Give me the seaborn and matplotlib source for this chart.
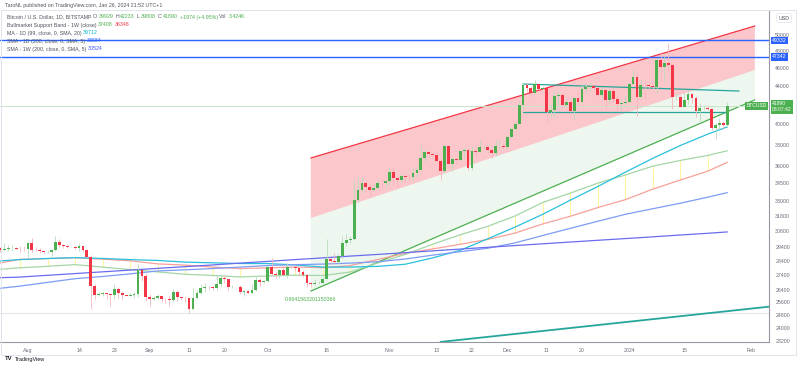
import numpy as np
import pandas as pd
import matplotlib
matplotlib.use("Agg")
import matplotlib.pyplot as plt
import matplotlib.dates as mdates
from matplotlib.patches import Polygon, Rectangle
from matplotlib.ticker import FixedLocator, NullLocator, FixedFormatter
import seaborn as sns

# ---- daily BTCUSD candles, 2023-07-25 .. 2024-01-26 ----
days = pd.date_range("2023-07-25", "2024-01-26", freq="D")
first_open = 29350
close = [
    29180, 29230, 29320, 29350, 29280, 29230, 29220,
    29700, 29180, 29170, 29070, 29050, 29060, 29180, 29770, 29560, 29430, 29400, 29420, 29300, 29430, 29170, 28700,
    26630, 26050, 26100, 26190, 26120, 26040, 26430, 26160, 26050, 26010, 26090, 26100, 27730, 27300, 25930,
    25800, 25870, 25970, 25820, 25790, 25750, 26240, 25900, 25890, 25840, 25160, 25840, 26220, 26530, 26600,
    26570, 26530, 26760, 27210, 27130, 26570, 26580, 26575, 26250, 26300, 26220, 26370, 27030, 26910, 26970,
    27990, 27500, 27430, 27780, 27410, 27930, 27950, 27920, 27590, 27390, 26870, 26760, 26860, 26870, 27160,
    28520, 28410, 28330, 28720, 29680, 29920, 30000, 33080, 33900, 34500, 34160, 33910, 34090, 34540, 34490, 34650,
    35440, 34940, 34730, 35080, 35050, 35040, 35420, 35640, 36700, 37310, 37130, 37060, 36500, 35540, 37880,
    36160, 36600, 36580, 37370, 37460, 35800, 37430, 37280, 37720, 37800, 37450, 37240, 37830, 37850, 37720,
    38690, 39460, 39970, 41980, 44080, 43770, 43290, 44170, 43720, 43790, 41240, 41450, 42890, 43020, 41940,
    42260, 41360, 42660, 42270, 43660, 43860, 43990, 43740, 43010, 43590, 42510, 43440, 42580, 42070, 42140, 42280,
    44180, 44950, 42830, 44160, 44150, 43960, 43930, 46970, 46120, 46660, 46340, 42780, 42850, 41730, 42510,
    43150, 42740, 41280, 41620, 41660, 41580, 39560, 39900, 40080, 39929, 41890,
]
high = [
    29380, 29690, 29570, 29530, 29400, 29440, 29500,
    29740, 30050, 29400, 29310, 29110, 29160, 29250, 30180, 30000, 29650, 29520, 29470, 29450, 29680, 29480, 29220,
    28780, 26800, 26260, 26290, 26260, 26130, 26800, 26560, 26290, 26080, 26170, 26240, 28140, 27750, 27480,
    26140, 25980, 26110, 26090, 25880, 26010, 26440, 26400, 25930, 26000, 25860, 26540, 26380, 26820, 26880,
    26660, 26630, 27420, 27470, 27390, 27150, 26720, 26620, 26720, 26420, 26380, 26800, 27300, 27220, 27070,
    28050, 28580, 27660, 27830, 28120, 28270, 28020, 28090, 27990, 27730, 27480, 26940, 27100, 26980, 27280,
    30000, 28610, 28960, 28890, 30210, 30330, 30200, 34740, 35150, 35000, 34800, 34400, 34470, 34800, 34870, 34700,
    35900, 35950, 34950, 35260, 35380, 35270, 35880, 35980, 37970, 37500, 37420, 37220, 37420, 36750, 37960,
    37980, 36850, 36830, 37500, 37720, 37650, 37850, 37620, 38400, 37900, 37830, 37590, 38390, 38420, 38160,
    38960, 39680, 40200, 42420, 44400, 44290, 44020, 44700, 44360, 44040, 43800, 42100, 43420, 43400, 43090,
    42710, 42420, 42740, 43450, 44280, 44230, 44400, 44000, 43940, 43930, 43600, 43700, 43780, 43120, 42600, 42860,
    44190, 45900, 45500, 44770, 44480, 44200, 44450, 47200, 47900, 47650, 48970, 46500, 43250, 43050, 43380,
    43580, 43200, 42920, 42200, 41880, 41870, 41670, 40130, 40500, 40270, 42233,
]
low = [
    29050, 29100, 29120, 29120, 29260, 29050, 29120,
    28600, 28950, 29100, 28970, 28980, 28960, 28720, 29130, 29370, 29350, 29300, 29360, 29260, 29100, 29050, 28690,
    25170, 25800, 25990, 26020, 25800, 25360, 25800, 25860, 25780, 25980, 25970, 25880, 25920, 27000, 25660,
    25350, 25720, 25820, 25600, 25570, 25380, 25620, 25700, 25820, 25580, 24900, 25130, 25770, 26130, 26250,
    26470, 26400, 26380, 26680, 26850, 26370, 26490, 26520, 26130, 25990, 26100, 26110, 26340, 26680, 26890,
    26950, 27300, 27200, 27230, 27350, 27180, 27870, 27700, 27300, 27290, 26560, 26560, 26690, 26810, 26830,
    27120, 28100, 28150, 28200, 28610, 29470, 29680, 29890, 32880, 33700, 33770, 33420, 33880, 34050, 34100, 34080,
    34360, 34360, 34130, 34580, 34550, 34780, 34560, 35120, 35550, 36350, 36780, 36760, 36360, 34800, 35370,
    35850, 35520, 36200, 36420, 36700, 35630, 35680, 36900, 37260, 37600, 37160, 36700, 36880, 37620, 37530,
    37630, 38650, 39280, 39960, 41420, 43350, 42850, 43080, 43600, 43590, 40250, 40670, 40600, 41850, 41680,
    41700, 41250, 40530, 41800, 42200, 43340, 43420, 43580, 42840, 42750, 41560, 42150, 42320, 41320, 41550, 41980,
    42200, 44170, 40800, 42640, 42480, 43480, 43650, 43200, 44600, 44500, 45620, 41500, 42440, 41700, 41720,
    42050, 42200, 40680, 40280, 41500, 41450, 39450, 38560, 39480, 39540, 39808,
]

# ---- indicators, sampled at weekly closes (Sundays) + last bar ----
ind_dates = pd.to_datetime([
    "2023-07-23", "2023-07-30", "2023-08-06", "2023-08-13", "2023-08-20", "2023-08-27",
    "2023-09-03", "2023-09-10", "2023-09-17", "2023-09-24", "2023-10-01", "2023-10-08",
    "2023-10-15", "2023-10-22", "2023-10-29", "2023-11-05", "2023-11-12", "2023-11-19",
    "2023-11-26", "2023-12-03", "2023-12-10", "2023-12-17", "2023-12-24", "2023-12-31",
    "2024-01-07", "2024-01-14", "2024-01-21", "2024-01-26",
])
band_sma20w = [28144, 28500, 28553, 28619, 28505, 28393, 28176, 28089, 27953, 27844, 27897, 27955,
               27910, 28054, 28489, 28924, 29253, 29592, 29956, 30440, 31140, 31744, 32442, 33091,
               33978, 34760, 35541, 36348]
band_ema21w = [27762, 27900, 28005, 28123, 27947, 27778, 27614, 27453, 27369, 27267, 27333, 27386,
               27365, 27605, 28235, 28854, 29600, 30306, 30955, 31774, 32866, 33638, 34490, 35198,
               35992, 36514, 36975, 37408]
ma99 = [28350, 28480, 28560, 28620, 28560, 28480, 28420, 28300, 28250, 28200, 28200, 28100,
        27950, 27950, 28000, 28150, 28600, 29150, 30000, 30900, 31900, 33050, 34200, 35450,
        36700, 37900, 39000, 39712]
sma200d = [26450, 26650, 26900, 27150, 27300, 27480, 27680, 27760, 27850, 27950, 28060, 28120,
           28160, 28230, 28330, 28520, 28800, 29050, 29300, 29700, 30250, 30800, 31350, 31900,
           32350, 32800, 33300, 33684]
sma200w = [27200, 27260, 27380, 27500, 27620, 27740, 27860, 27980, 28100, 28230, 28350, 28480,
           28600, 28730, 28850, 28980, 29110, 29240, 29370, 29500, 29630, 29760, 29890, 30020,
           30150, 30290, 30420, 30524]

# ---- drawings ----
chan_dates = pd.to_datetime(["2023-10-12", "2024-02-02"])
chan_top = [36740, 51140]
chan_mid = [31600, 45800]
chan_low = [26320, 42500]
fib_label = "0.8641563201150366"
box_dates = pd.to_datetime(["2023-12-05", "2024-01-29"])
box_top = [44220, 43450]
box_bottom = [41230, 41230]
support_dates = pd.to_datetime(["2023-11-14", "2024-02-06"])
support_vals = [23170, 25320]
hlines_blue = [49332, 47342]
hline_gray = 24900
last_price = 41890

yticks = [50000, 48000, 46000, 44000, 40000, 38000, 36000, 34500, 33000, 31800, 30600,
          29400, 28400, 27400, 26400, 25600, 24800, 24000, 23200]
xtick_dates = pd.to_datetime([
    "2023-08-01", "2023-08-14", "2023-08-23", "2023-09-01", "2023-09-11", "2023-09-20",
    "2023-10-01", "2023-10-16", "2023-11-01", "2023-11-13", "2023-11-22", "2023-12-01",
    "2023-12-11", "2023-12-20", "2024-01-01", "2024-01-15", "2024-02-01",
])
xtick_labels = ["Aug", "14", "23", "Sep", "11", "20", "Oct", "16", "Nov", "13", "22",
                "Dec", "11", "20", "2024", "15", "Feb"]

GREEN = "#4caf50"
RED = "#f23645"
TEAL = "#26a69a"
BLUE = "#2962ff"
TXT = "#50535e"

sns.set_theme(style="white")
plt.rcParams["font.family"] = ["Liberation Sans", "DejaVu Sans"]

W, H = 800, 370
fig = plt.figure(figsize=(W / 100, H / 100), dpi=100)
ax = fig.add_axes([0, 28 / H, 769 / W, 332 / H])
ax.set_facecolor("white")

# channel fills
cx = mdates.date2num(chan_dates)
ax.add_patch(Polygon([(cx[0], chan_mid[0]), (cx[0], chan_top[0]), (cx[1], chan_top[1]), (cx[1], chan_mid[1])],
                     closed=True, fc="#f23645", alpha=0.28, ec="none", zorder=1))
ax.add_patch(Polygon([(cx[0], chan_low[0]), (cx[0], chan_mid[0]), (cx[1], chan_mid[1]), (cx[1], chan_low[1])],
                     closed=True, fc="#4caf50", alpha=0.09, ec="none", zorder=1))
ax.plot(chan_dates, chan_top, color=RED, lw=0.9, zorder=2)
ax.plot(chan_dates, chan_low, color=GREEN, lw=0.9, zorder=2)
ax.text(chan_dates[0], chan_low[0] * 0.985, fib_label, color=GREEN, fontsize=3.8,
        ha="center", va="top", zorder=5)

# horizontal lines
for v in hlines_blue:
    ax.axhline(v, color=BLUE, lw=1.0, zorder=2)
ax.axhline(last_price, color="#c8e6c9", lw=0.7, zorder=2)
ax.axhline(hline_gray, color="#e3e5ea", lw=0.8, zorder=1)

# indicator lines
ind = pd.DataFrame({
    "date": list(ind_dates) * 5,
    "value": band_sma20w + band_ema21w + ma99 + sma200d + sma200w,
    "name": (["sma20w"] * 28 + ["ema21w"] * 28 + ["ma99"] * 28 + ["sma200d"] * 28 + ["sma200w"] * 28),
})
palette = {"sma20w": "#f7a19a", "ema21w": "#a5d6a7", "ma99": "#29c0dc",
           "sma200d": "#7d9cf5", "sma200w": "#6b6bf0"}
sns.lineplot(data=ind, x="date", y="value", hue="name", palette=palette, legend=False,
             lw=0.9, ax=ax, zorder=3)
ax.vlines(ind_dates[1:-1], np.minimum(band_sma20w, band_ema21w)[1:-1],
          np.maximum(band_sma20w, band_ema21w)[1:-1], color="#fff3a0", lw=0.8, zorder=2)

# teal box lines + support line
ax.plot(box_dates, box_top, color=TEAL, lw=0.9, zorder=4)
ax.plot([box_dates[0], pd.Timestamp("2024-01-26")], box_bottom, color=TEAL, lw=0.9, zorder=4)
ax.plot(support_dates, support_vals, color=TEAL, lw=1.3, zorder=4)

# candles
df = pd.DataFrame({"date": days, "open": [first_open] + close[:-1], "high": high, "low": low, "close": close})
up = df["close"] >= df["open"]
body_col = np.where(up, GREEN, RED)
wick_col = np.where(up, "#b9dcbb", "#f6b7bd")
ax.vlines(df["date"], df["low"], df["high"], colors=wick_col, lw=0.6, zorder=5)
ax.bar(df["date"], (df["close"] - df["open"]).abs(), bottom=np.minimum(df["open"], df["close"]),
       width=0.72, color=body_col, linewidth=0, zorder=6)

# axes
ax.set_yscale("log")
ax.set_ylim(23166, 53233)
ax.set_xlim(mdates.date2num(pd.Timestamp("2023-08-01")) - 7.12,
            mdates.date2num(pd.Timestamp("2023-08-01")) + 188.6)
ax.yaxis.tick_right()
ax.yaxis.set_major_locator(FixedLocator(yticks))
ax.yaxis.set_major_formatter(FixedFormatter([str(v) for v in yticks]))
ax.yaxis.set_minor_locator(NullLocator())
ax.set_xticks(mdates.date2num(xtick_dates))
ax.set_xticklabels(xtick_labels)
ax.tick_params(axis="both", length=0, labelsize=3.8, colors="#6a6d78")
ax.tick_params(axis="y", pad=4.5)
ax.tick_params(axis="x", pad=4.5)
ax.set_xlabel("")
ax.set_ylabel("")
ax.grid(False)
for s in ["left", "top"]:
    ax.spines[s].set_visible(False)
for s in ["right", "bottom"]:
    ax.spines[s].set_color("#9598a1")
    ax.spines[s].set_linewidth(0.8)

# price labels on the axis
for v in hlines_blue:
    ax.annotate(str(v), xy=(1, v), xycoords=ax.get_yaxis_transform(), xytext=(2.2, 0),
                textcoords="offset points", ha="left", va="center", fontsize=3.8, color="white",
                bbox=dict(boxstyle="square,pad=0.25", fc=BLUE, ec="none"), annotation_clip=False, zorder=10)
ax.annotate(f"{last_price}\n03:07:42", xy=(1, last_price), xycoords=ax.get_yaxis_transform(),
            xytext=(2.2, 3.2), textcoords="offset points", ha="left", va="top", fontsize=3.6,
            color="white", linespacing=1.3,
            bbox=dict(boxstyle="square,pad=0.3", fc=GREEN, ec="none"), annotation_clip=False, zorder=10)
ax.annotate("BTCUSD", xy=(1, last_price), xycoords=ax.get_yaxis_transform(), xytext=(-1.5, 0),
            textcoords="offset points", ha="right", va="center", fontsize=3.6, color="white",
            bbox=dict(boxstyle="square,pad=0.3", fc=GREEN, ec="none"), annotation_clip=False, zorder=10)

# frame and top-right currency box
fig.patches.append(Rectangle((1 / W, 1 - 355 / H), 795 / W, 345 / H, transform=fig.transFigure,
                             fill=False, ec="#e0e3eb", lw=0.7))
fig.text(784 / W, 1 - 18 / H, "USD", ha="center", va="center", fontsize=3.8, color=TXT,
         bbox=dict(boxstyle="round,pad=0.35", fc="white", ec="#e0e3eb", lw=0.5))


def rich_text(x, y, parts, size=3.8):
    r = fig.canvas.get_renderer()
    for s, c in parts:
        t = fig.text(x / W, 1 - y / H, s, color=c, fontsize=size, ha="left", va="center")
        x += t.get_window_extent(renderer=r).width + 1.6


fig.text(5 / W, 1 - 6 / H, "TaroNL published on TradingView.com, Jan 26, 2024 21:52 UTC+1",
         fontsize=3.8, color=TXT, ha="left", va="center")
rich_text(7, 17, [("Bitcoin / U.S. Dollar, 1D, BITSTAMP", TXT), ("O", TXT), ("39929", GREEN),
                  ("H", TXT), ("42233", GREEN), ("L", TXT), ("39808", GREEN), ("C", TXT),
                  ("41890", GREEN), ("+1974 (+4.95%)", GREEN), ("Vol", TXT), ("3.424K", GREEN)])
rich_text(7, 25, [("Bullmarket Support Band - 1W (close)", TXT), ("37408", GREEN), ("36348", RED)])
rich_text(7, 33, [("MA - 1D (99, close, 0, SMA, 20)", TXT), ("39712", "#00bcd4")])
rich_text(7, 41, [("SMA - 1D (200, close, 0, SMA, 5)", TXT), ("33684", BLUE)])
rich_text(7, 49, [("SMA - 1W (200, close, 0, SMA, 5)", TXT), ("30524", "#3f51ff")])

fig.text(5 / W, 1 - 359 / H, "TV", fontsize=4.2, fontweight="bold", color="#131722", ha="left", va="center")
fig.text(15 / W, 1 - 359 / H, "TradingView", fontsize=4.0, color="#131722", ha="left", va="center")

fig.savefig("out.png", dpi=100)
